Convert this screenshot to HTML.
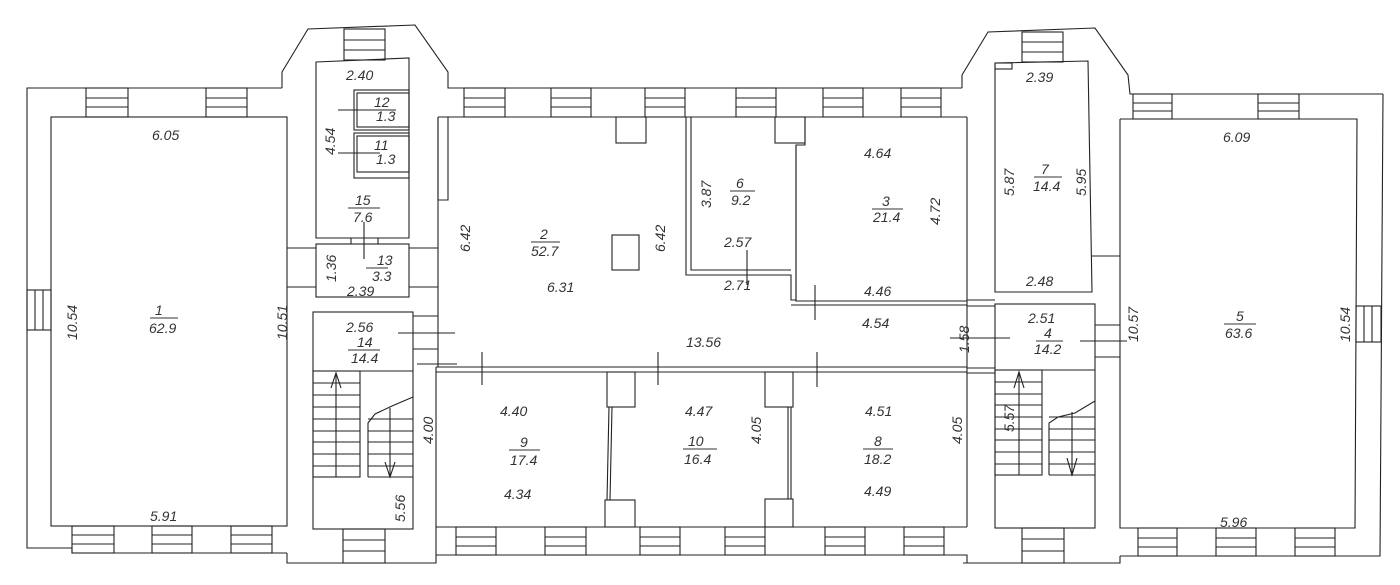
<!DOCTYPE html>
<html><head><meta charset="utf-8"><style>
html,body{margin:0;padding:0;background:#fff;}
svg{display:block}
text{font-family:"Liberation Sans",sans-serif;font-style:italic;font-size:14px;fill:#333;}
</style></head><body>
<svg width="1400" height="585" viewBox="0 0 1400 585" xmlns="http://www.w3.org/2000/svg">
<g fill="none" stroke="#222" stroke-width="1.1">
<!-- left wing -->
<polyline points="282,88 27,88 27,548 72,548 72,553 287,553"/>
<rect x="51" y="117" width="236" height="409"/>
<!-- left wing windows top -->
<rect x="86" y="88" width="42" height="29"/><line x1="86" y1="98" x2="128" y2="98"/><line x1="86" y1="107" x2="128" y2="107"/>
<rect x="206" y="88" width="41" height="29"/><line x1="206" y1="98" x2="247" y2="98"/><line x1="206" y1="107" x2="247" y2="107"/>
<!-- left side window -->
<rect x="27" y="290" width="24" height="40"/><line x1="35" y1="290" x2="35" y2="330"/><line x1="43" y1="290" x2="43" y2="330"/>
<!-- left bottom windows -->
<rect x="72" y="526" width="42" height="27"/><line x1="72" y1="535" x2="114" y2="535"/><line x1="72" y1="544" x2="114" y2="544"/>
<rect x="152" y="526" width="40" height="27"/><line x1="152" y1="535" x2="192" y2="535"/><line x1="152" y1="544" x2="192" y2="544"/>
<rect x="231" y="526" width="41" height="27"/><line x1="231" y1="535" x2="272" y2="535"/><line x1="231" y1="544" x2="272" y2="544"/>
<!-- left tower -->
<polyline points="282,88 282,72 308,29 415,25 448,72 448,88 466,88"/>
<rect x="344" y="29" width="41" height="31"/><line x1="344" y1="40" x2="385" y2="40"/><line x1="344" y1="50" x2="385" y2="50"/>
<polygon points="316,62 409,58 409,238 316,238"/>
<rect x="354" y="90" width="55" height="40"/><rect x="357" y="93" width="52" height="34"/>
<rect x="354" y="133" width="55" height="45"/><rect x="357" y="136" width="52" height="36"/>
<line x1="338" y1="110" x2="396" y2="110"/><line x1="338" y1="153" x2="380" y2="153"/>
<rect x="316" y="244" width="93" height="53"/>
<line x1="364" y1="222" x2="364" y2="259"/>
<line x1="287" y1="248" x2="316" y2="248"/><line x1="287" y1="287" x2="316" y2="287"/>
<line x1="409" y1="248" x2="438" y2="248"/><line x1="409" y1="287" x2="438" y2="287"/>
<line x1="351" y1="238" x2="351" y2="244"/><line x1="378" y1="238" x2="378" y2="244"/>
<!-- room 14 stair -->
<rect x="313" y="312" width="100" height="217"/>
<line x1="313" y1="371" x2="413" y2="371"/>
<line x1="413" y1="316" x2="438" y2="316"/><line x1="413" y1="349" x2="438" y2="349"/>
<line x1="398" y1="333" x2="455" y2="333"/>
<rect x="313" y="371" width="47" height="106"/>
<line x1="313" y1="383" x2="360" y2="383"/><line x1="313" y1="395" x2="360" y2="395"/><line x1="313" y1="407" x2="360" y2="407"/><line x1="313" y1="419" x2="360" y2="419"/><line x1="313" y1="431" x2="360" y2="431"/><line x1="313" y1="442" x2="360" y2="442"/><line x1="313" y1="454" x2="360" y2="454"/><line x1="313" y1="466" x2="360" y2="466"/>
<line x1="336" y1="373" x2="336" y2="477"/><polyline points="331,388 336,373 341,388"/>
<polyline points="368,477 368,423 375,414 392,406 413,397"/>
<line x1="368" y1="419" x2="413" y2="419"/><line x1="368" y1="431" x2="413" y2="431"/><line x1="368" y1="442" x2="413" y2="442"/><line x1="368" y1="454" x2="413" y2="454"/><line x1="368" y1="466" x2="413" y2="466"/><line x1="368" y1="477" x2="413" y2="477"/>
<line x1="390" y1="408" x2="390" y2="477"/><polyline points="385,462 390,477 395,462"/>
<rect x="343" y="529" width="42" height="34"/><line x1="343" y1="540" x2="385" y2="540"/><line x1="343" y1="551" x2="385" y2="551"/>
<polyline points="287,553 287,563 436,563 436,555"/>
<!-- center block -->
<polyline points="466,88 962,88"/>
<line x1="438" y1="117" x2="967" y2="117"/>
<line x1="438" y1="117" x2="438" y2="367"/><line x1="967" y1="117" x2="967" y2="527"/>
<polyline points="438,117 438,200 448,200 448,117"/>
<g>
<rect x="464" y="88" width="41" height="29"/><line x1="464" y1="98" x2="505" y2="98"/><line x1="464" y1="107" x2="505" y2="107"/>
<rect x="551" y="88" width="40" height="29"/><line x1="551" y1="98" x2="591" y2="98"/><line x1="551" y1="107" x2="591" y2="107"/>
<rect x="645" y="88" width="40" height="29"/><line x1="645" y1="98" x2="685" y2="98"/><line x1="645" y1="107" x2="685" y2="107"/>
<rect x="736" y="88" width="40" height="29"/><line x1="736" y1="98" x2="776" y2="98"/><line x1="736" y1="107" x2="776" y2="107"/>
<rect x="823" y="88" width="40" height="29"/><line x1="823" y1="98" x2="863" y2="98"/><line x1="823" y1="107" x2="863" y2="107"/>
<rect x="901" y="88" width="40" height="29"/><line x1="901" y1="98" x2="941" y2="98"/><line x1="901" y1="107" x2="941" y2="107"/>
</g>
<rect x="616" y="117" width="30" height="26"/>
<rect x="612" y="235" width="27" height="35"/>
<!-- room 6 -->
<polyline points="686,117 686,275 791,275 791,300 796,300 796,145 805,145 805,117"/>
<polyline points="691,117 691,270 791,270"/>
<rect x="775" y="117" width="30" height="26"/>
<polyline points="796,145 796,301 967,301"/><line x1="791" y1="305" x2="967" y2="305"/>
<line x1="747" y1="250" x2="747" y2="285"/>
<line x1="815" y1="285" x2="815" y2="320"/>
<!-- corridor bottom -->
<line x1="436" y1="367" x2="967" y2="367"/><line x1="436" y1="372" x2="967" y2="372"/>
<line x1="482" y1="352" x2="482" y2="385"/><line x1="658" y1="352" x2="658" y2="385"/><line x1="817" y1="352" x2="817" y2="387"/>
<!-- rooms 9,10,8 -->
<line x1="436" y1="367" x2="436" y2="555"/>
<line x1="436" y1="527" x2="967" y2="527"/>
<rect x="607" y="372" width="28" height="35"/><rect x="605" y="500" width="30" height="27"/>
<line x1="609" y1="407" x2="607" y2="500"/><line x1="612" y1="407" x2="610" y2="500"/>
<rect x="765" y="372" width="28" height="35"/><rect x="765" y="499" width="28" height="28"/>
<line x1="788" y1="407" x2="788" y2="499"/><line x1="791" y1="407" x2="791" y2="499"/>
<line x1="417" y1="364" x2="457" y2="364"/>
<polyline points="436,555 967,555 967,563 963,563"/>
<g>
<rect x="456" y="527" width="40" height="28"/><line x1="456" y1="537" x2="496" y2="537"/><line x1="456" y1="546" x2="496" y2="546"/>
<rect x="545" y="527" width="41" height="28"/><line x1="545" y1="537" x2="586" y2="537"/><line x1="545" y1="546" x2="586" y2="546"/>
<rect x="640" y="527" width="40" height="28"/><line x1="640" y1="537" x2="680" y2="537"/><line x1="640" y1="546" x2="680" y2="546"/>
<rect x="725" y="527" width="40" height="28"/><line x1="725" y1="537" x2="765" y2="537"/><line x1="725" y1="546" x2="765" y2="546"/>
<rect x="825" y="527" width="40" height="28"/><line x1="825" y1="537" x2="865" y2="537"/><line x1="825" y1="546" x2="865" y2="546"/>
<rect x="904" y="527" width="40" height="28"/><line x1="904" y1="537" x2="944" y2="537"/><line x1="904" y1="546" x2="944" y2="546"/>
</g>
<!-- right tower -->
<polyline points="962,88 962,75 988,32 1095,28 1128,75 1130,94 1383,94"/>
<rect x="1022" y="32" width="41" height="30"/><line x1="1022" y1="42" x2="1063" y2="42"/><line x1="1022" y1="52" x2="1063" y2="52"/>
<polygon points="995,63 1088,61 1092,292 995,292"/>
<rect x="995" y="63" width="17" height="6"/>
<line x1="1092" y1="256" x2="1120" y2="256"/>
<line x1="967" y1="300" x2="995" y2="300"/><line x1="967" y1="306" x2="995" y2="306"/>
<line x1="967" y1="368" x2="995" y2="368"/><line x1="967" y1="373" x2="995" y2="373"/>
<line x1="950" y1="338" x2="1010" y2="338"/>
<rect x="995" y="304" width="100" height="224"/>
<line x1="995" y1="370" x2="1095" y2="370"/>
<line x1="1095" y1="325" x2="1120" y2="325"/><line x1="1095" y1="357" x2="1120" y2="357"/>
<line x1="1080" y1="341" x2="1127" y2="341"/>
<rect x="995" y="370" width="47" height="105"/>
<line x1="995" y1="382" x2="1042" y2="382"/><line x1="995" y1="394" x2="1042" y2="394"/><line x1="995" y1="405" x2="1042" y2="405"/><line x1="995" y1="417" x2="1042" y2="417"/><line x1="995" y1="429" x2="1042" y2="429"/><line x1="995" y1="440" x2="1042" y2="440"/><line x1="995" y1="452" x2="1042" y2="452"/><line x1="995" y1="464" x2="1042" y2="464"/>
<line x1="1019" y1="372" x2="1019" y2="475"/><polyline points="1014,388 1019,372 1024,388"/>
<polyline points="1049,475 1049,423 1058,417 1075,413 1095,401"/>
<line x1="1049" y1="417" x2="1095" y2="417"/><line x1="1049" y1="429" x2="1095" y2="429"/><line x1="1049" y1="440" x2="1095" y2="440"/><line x1="1049" y1="452" x2="1095" y2="452"/><line x1="1049" y1="464" x2="1095" y2="464"/><line x1="1049" y1="475" x2="1095" y2="475"/>
<line x1="1072" y1="412" x2="1072" y2="475"/><polyline points="1067,458 1072,475 1077,458"/>
<rect x="1022" y="528" width="42" height="35"/><line x1="1022" y1="539" x2="1064" y2="539"/><line x1="1022" y1="551" x2="1064" y2="551"/>
<polyline points="963,563 1120,563 1120,556"/>
<!-- right wing -->
<polyline points="1120,119 1357,119 1355,528 1120,528 1120,119"/>
<polyline points="1383,94 1380,556 1120,556"/>
<rect x="1133" y="94" width="39" height="25"/><line x1="1133" y1="103" x2="1172" y2="103"/><line x1="1133" y1="111" x2="1172" y2="111"/>
<rect x="1258" y="94" width="41" height="25"/><line x1="1258" y1="103" x2="1299" y2="103"/><line x1="1258" y1="111" x2="1299" y2="111"/>
<rect x="1356" y="306" width="25" height="36"/><line x1="1364" y1="306" x2="1364" y2="342"/><line x1="1372" y1="306" x2="1372" y2="342"/>
<rect x="1138" y="528" width="39" height="28"/><line x1="1138" y1="538" x2="1177" y2="538"/><line x1="1138" y1="547" x2="1177" y2="547"/>
<rect x="1216" y="528" width="40" height="28"/><line x1="1216" y1="538" x2="1256" y2="538"/><line x1="1216" y1="547" x2="1256" y2="547"/>
<rect x="1295" y="528" width="40" height="28"/><line x1="1295" y1="538" x2="1335" y2="538"/><line x1="1295" y1="547" x2="1335" y2="547"/>
<!-- fraction bars -->
<g stroke="#333" stroke-width="0.9">
<line x1="150" y1="318" x2="178" y2="318"/><line x1="531" y1="242" x2="560" y2="242"/>
<line x1="730" y1="191" x2="755" y2="191"/><line x1="872" y1="209" x2="903" y2="209"/>
<line x1="1034" y1="177" x2="1062" y2="177"/><line x1="1224" y1="324" x2="1256" y2="324"/>
<line x1="1036" y1="341" x2="1063" y2="341"/><line x1="348" y1="208" x2="380" y2="208"/>
<line x1="366" y1="268" x2="388" y2="268"/><line x1="348" y1="350" x2="380" y2="350"/>
<line x1="509" y1="450" x2="540" y2="450"/><line x1="683" y1="449" x2="717" y2="449"/>
<line x1="863" y1="449" x2="893" y2="449"/>
</g>
</g>
<g>
<text x="152" y="140">6.05</text>
<text x="155" y="315">1</text><text x="149" y="333">62.9</text>
<text x="150" y="521">5.91</text>
<text x="346" y="80">2.40</text>
<text x="374" y="107" font-size="13">12</text><text x="376" y="121" font-size="13">1.3</text>
<text x="374" y="150" font-size="13">11</text><text x="376" y="164" font-size="13">1.3</text>
<text x="355" y="205">15</text><text x="353" y="222">7.6</text>
<text x="377" y="265">13</text><text x="372" y="281">3.3</text>
<text x="347" y="296">2.39</text>
<text x="346" y="332">2.56</text>
<text x="357" y="347">14</text><text x="351" y="363">14.4</text>
<text x="540" y="239">2</text><text x="531" y="256">52.7</text>
<text x="547" y="292">6.31</text>
<text x="736" y="188">6</text><text x="731" y="205">9.2</text>
<text x="724" y="247">2.57</text><text x="724" y="290">2.71</text>
<text x="864" y="158">4.64</text>
<text x="882" y="206">3</text><text x="873" y="222">21.4</text>
<text x="864" y="296">4.46</text>
<text x="862" y="328">4.54</text>
<text x="686" y="347">13.56</text>
<text x="500" y="416">4.40</text>
<text x="520" y="447">9</text><text x="510" y="465">17.4</text>
<text x="504" y="499">4.34</text>
<text x="685" y="416">4.47</text>
<text x="688" y="446">10</text><text x="684" y="464">16.4</text>
<text x="865" y="416">4.51</text>
<text x="874" y="446">8</text><text x="864" y="464">18.2</text>
<text x="864" y="496">4.49</text>
<text x="1026" y="82">2.39</text>
<text x="1041" y="174">7</text><text x="1033" y="191">14.4</text>
<text x="1026" y="286">2.48</text>
<text x="1028" y="323">2.51</text>
<text x="1044" y="338">4</text><text x="1034" y="354">14.2</text>
<text x="1223" y="142">6.09</text>
<text x="1236" y="321">5</text><text x="1225" y="338">63.6</text>
<text x="1220" y="527">5.96</text>
<g font-size="14">
<text transform="translate(77,340) rotate(-90)">10.54</text>
<text transform="translate(287,340) rotate(-90)">10.51</text>
<text transform="translate(335,155) rotate(-90)">4.54</text>
<text transform="translate(336,282) rotate(-90)">1.36</text>
<text transform="translate(405,522) rotate(-90)">5.56</text>
<text transform="translate(470,252) rotate(-90)">6.42</text>
<text transform="translate(665,252) rotate(-90)">6.42</text>
<text transform="translate(711,208) rotate(-90)">3.87</text>
<text transform="translate(940,225) rotate(-90)">4.72</text>
<text transform="translate(969,353) rotate(-90)">1.58</text>
<text transform="translate(433,444) rotate(-90)">4.00</text>
<text transform="translate(761,444) rotate(-90)">4.05</text>
<text transform="translate(962,444) rotate(-90)">4.05</text>
<text transform="translate(1014,196) rotate(-90)">5.87</text>
<text transform="translate(1086,196) rotate(-90)">5.95</text>
<text transform="translate(1014,432) rotate(-90)">5.57</text>
<text transform="translate(1138,342) rotate(-90)">10.57</text>
<text transform="translate(1350,342) rotate(-90)">10.54</text>
</g>
</g>
</svg>
</body></html>
